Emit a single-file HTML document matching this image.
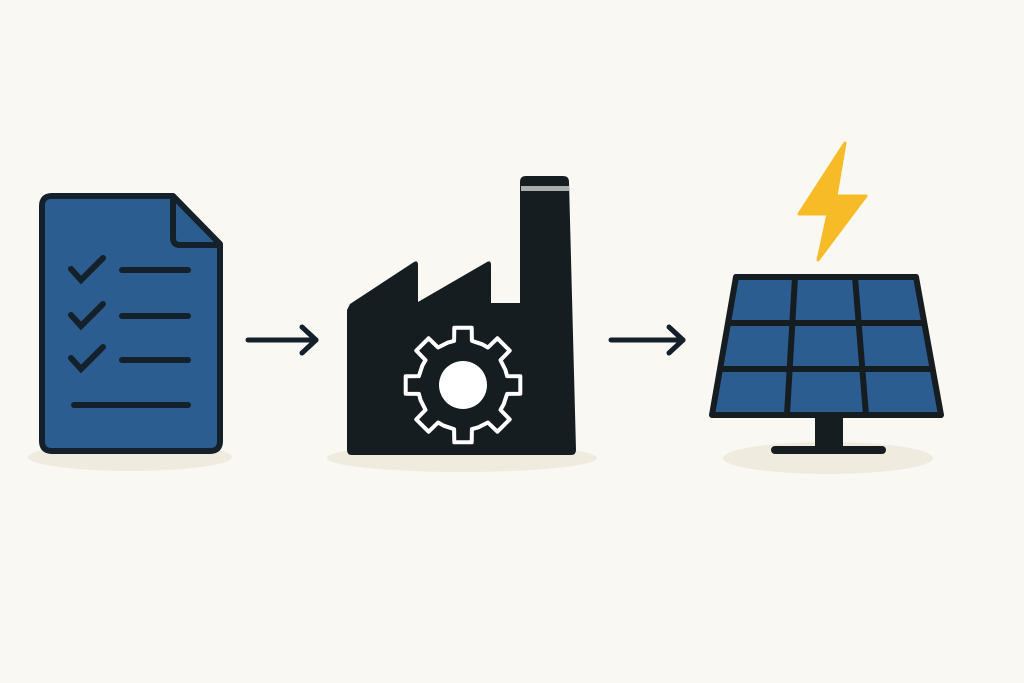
<!DOCTYPE html>
<html><head><meta charset="utf-8"><style>html,body{margin:0;padding:0;background:#faf8f3;}svg{display:block}</style></head>
<body>
<svg width="1024" height="683" viewBox="0 0 1024 683" xmlns="http://www.w3.org/2000/svg">
<rect width="1024" height="683" fill="#faf8f3"/>
<ellipse cx="130" cy="457" rx="102" ry="14" fill="#f0ebdf"/>
<ellipse cx="462" cy="458" rx="135" ry="14" fill="#f0ebdf"/>
<ellipse cx="828" cy="458" rx="105" ry="16" fill="#f0ebdf"/>
<!-- document -->
<path d="M52,196 H173 L220,244 V441 Q220,451 210,451 H52 Q42,451 42,441 V206 Q42,196 52,196 Z" fill="#2c5d91" stroke="#14202a" stroke-width="6" stroke-linejoin="round"/>
<path d="M173,197 V238 Q173,245 180,245 H219" fill="none" stroke="#14202a" stroke-width="6" stroke-linejoin="round"/>
<g stroke="#14202a" stroke-width="6" stroke-linecap="round" fill="none">
<polyline points="71,269 81,280 103,258"/>
<polyline points="71,315 81,326 103,304"/>
<polyline points="71,358 81,369 103,347"/>
<line x1="122" y1="270" x2="188" y2="270"/>
<line x1="122" y1="316" x2="188" y2="316"/>
<line x1="122" y1="360" x2="188" y2="360"/>
<line x1="74" y1="405" x2="188" y2="405"/>
</g>
<!-- arrows -->
<g stroke="#14202a" stroke-width="5" stroke-linecap="round" stroke-linejoin="round" fill="none">
<line x1="248" y1="340" x2="316" y2="340"/><polyline points="302,327 316,340 302,353"/>
<line x1="611" y1="340" x2="683" y2="340"/><polyline points="669,327 683,340 669,353"/>
</g>
<!-- factory -->
<path d="M350,304 L414,262 Q418,260 418,265 V302 L487,262 Q491,260 491,265 V303 H520 V182 Q520,176 526,176 H563 Q569,176 569,182 L576,450 Q576,455 571,455 H352 Q347,455 347,450 V310 Z" fill="#161d20"/>
<rect x="521" y="186" width="48" height="5" fill="#a9adab"/>
<path id="gear" fill="none" stroke="#fff" stroke-width="4" stroke-linejoin="round"/>
<circle cx="463" cy="385" r="24" fill="#fff"/>
<!-- lightning -->
<path d="M845,143 L799,214 L828,214 L818,260 L866,196 L836,196 Z" fill="#f6bb26" stroke="#f6bb26" stroke-width="3" stroke-linejoin="round"/>
<!-- solar panel -->
<rect x="815" y="414" width="28" height="34" fill="#161d20"/>
<line x1="775" y1="450" x2="882" y2="450" stroke="#161d20" stroke-width="8" stroke-linecap="round"/>
<path d="M736,277 H916 L941,415 H712 Z" fill="#2c5d91" stroke="#161d20" stroke-width="6" stroke-linejoin="round"/>
<g stroke="#161d20" stroke-width="6">
<line x1="795" y1="277" x2="787" y2="415"/>
<line x1="855" y1="277" x2="866" y2="415"/>
<line x1="728" y1="323" x2="924" y2="323"/>
<line x1="720" y1="369" x2="932" y2="369"/>
</g>
</svg>
<script>
(function(){var cx=463,cy=385,R=58,r=45,n=8,d="";for(var i=0;i<n;i++){var a=i*2*Math.PI/n;var hw=0.2,tw=0.15;var pts=[[r,a-Math.PI/n+0.05],[r,a-hw],[R,a-tw],[R,a+tw],[r,a+hw]];pts.forEach(function(p,j){var x=cx+p[0]*Math.cos(p[1]),y=cy+p[0]*Math.sin(p[1]);d+=(i==0&&j==0?"M":"L")+x.toFixed(1)+","+y.toFixed(1);});}d+="Z";document.getElementById("gear").setAttribute("d",d);})();
</script>
</body></html>
